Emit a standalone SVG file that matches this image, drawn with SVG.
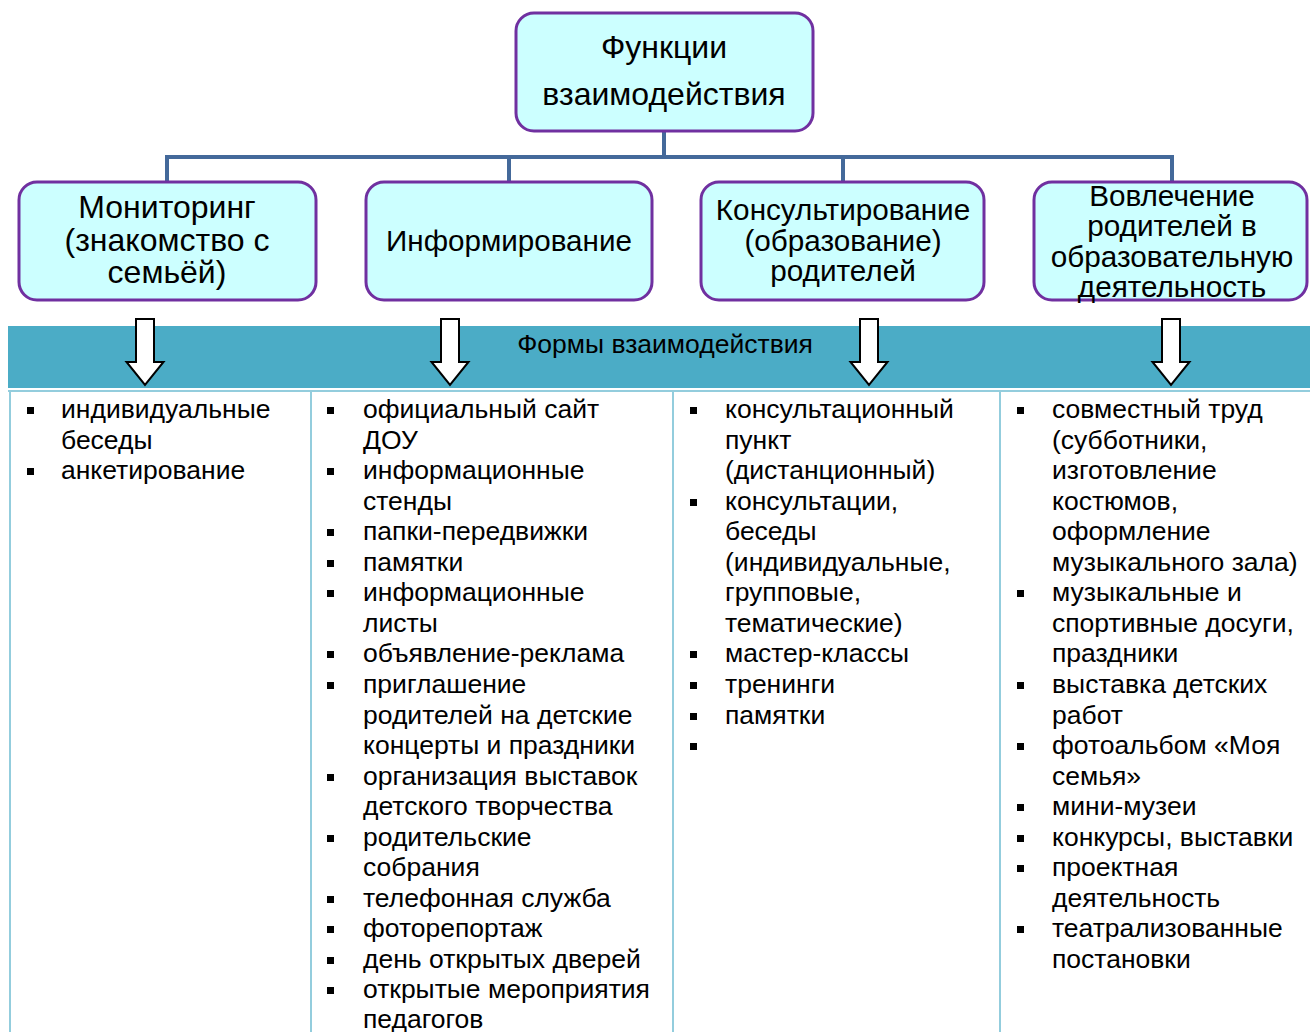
<svg xmlns="http://www.w3.org/2000/svg" width="1310" height="1032" viewBox="0 0 1310 1032">
<style>
.box{fill:#CCFFFF;stroke:#7030A0;stroke-width:3}
.hd{font-family:"Liberation Sans",Arial,sans-serif;fill:#000;text-anchor:middle}
.li{font-family:"Liberation Sans",Arial,sans-serif;font-size:26.5px;fill:#000}
.conn{stroke:#44699A;stroke-width:4;fill:none}
.sep{stroke:#93CDDD;stroke-width:2}
.arrow{fill:#fff;stroke:#000;stroke-width:2}
.bul{fill:#000}
</style>
<defs>
<path id="arr" d="M-9,0 H9 V43 H18.5 L0,66 L-18.5,43 H-9 Z"/>
<rect id="b" width="7" height="7"/>
</defs>
<rect width="1310" height="1032" fill="#fff"/>
<g id="connectors">
<path class="conn" d="M664,131 V157 M167,157 H1172 M167,155 V182 M509,155 V182 M843,155 V182 M1172,155 V182"/>
</g>
<g id="root">
<rect class="box" x="516" y="13" width="297" height="118" rx="18"/>
<text class="hd" font-size="32" x="664" y="58">Функции</text>
<text class="hd" font-size="32" x="664" y="105">взаимодействия</text>
</g>
<g id="n1">
<rect class="box" x="19" y="182" width="297" height="118" rx="18"/>
<text class="hd" font-size="32"><tspan x="167" y="218">Мониторинг</tspan><tspan x="167" y="251">(знакомство с</tspan><tspan x="167" y="283">семьёй)</tspan></text>
</g>
<g id="n2">
<rect class="box" x="366" y="182" width="286" height="118" rx="18"/>
<text class="hd" font-size="29.6" x="509" y="251">Информирование</text>
</g>
<g id="n3">
<rect class="box" x="701" y="182" width="283" height="118" rx="18"/>
<text class="hd" font-size="29.7"><tspan x="843" y="220">Консультирование</tspan><tspan x="843" y="251">(образование)</tspan><tspan x="843" y="281">родителей</tspan></text>
</g>
<g id="n4">
<rect class="box" x="1034" y="182" width="273" height="118" rx="18"/>
<text class="hd" font-size="29.7"><tspan x="1172" y="206">Вовлечение</tspan><tspan x="1172" y="236">родителей в</tspan><tspan x="1172" y="267">образовательную</tspan><tspan x="1172" y="297">деятельность</tspan></text>
</g>
<g id="banner">
<rect x="8" y="326" width="1302" height="62" fill="#4BACC6"/>
<line class="sep" x1="8" y1="391" x2="1310" y2="391"/>
<text class="hd" font-size="26.5" x="665" y="353">Формы взаимодействия</text>
<use href="#arr" class="arrow" x="145" y="319"/>
<use href="#arr" class="arrow" x="450" y="319"/>
<use href="#arr" class="arrow" x="869" y="319"/>
<use href="#arr" class="arrow" x="1171" y="319"/>
</g>
<g id="columns">
<line class="sep" x1="10" y1="391" x2="10" y2="1032"/>
<line class="sep" x1="311" y1="391" x2="311" y2="1032"/>
<line class="sep" x1="673" y1="391" x2="673" y2="1032"/>
<line class="sep" x1="1000" y1="391" x2="1000" y2="1032"/>
</g>
<g id="list1">
<use href="#b" class="bul" x="27" y="407"/>
<use href="#b" class="bul" x="27" y="468"/>
<text class="li"><tspan x="61" y="418">индивидуальные</tspan><tspan x="61" y="449">беседы</tspan><tspan x="61" y="479">анкетирование</tspan></text>
</g>
<g id="list2">
<use href="#b" class="bul" x="327" y="407"/>
<use href="#b" class="bul" x="327" y="468"/>
<use href="#b" class="bul" x="327" y="529"/>
<use href="#b" class="bul" x="327" y="560"/>
<use href="#b" class="bul" x="327" y="590"/>
<use href="#b" class="bul" x="327" y="651"/>
<use href="#b" class="bul" x="327" y="682"/>
<use href="#b" class="bul" x="327" y="774"/>
<use href="#b" class="bul" x="327" y="835"/>
<use href="#b" class="bul" x="327" y="896"/>
<use href="#b" class="bul" x="327" y="926"/>
<use href="#b" class="bul" x="327" y="957"/>
<use href="#b" class="bul" x="327" y="987"/>
<text class="li"><tspan x="363" y="418">официальный сайт</tspan><tspan x="363" y="449">ДОУ</tspan><tspan x="363" y="479">информационные</tspan><tspan x="363" y="510">стенды</tspan><tspan x="363" y="540">папки-передвижки</tspan><tspan x="363" y="571">памятки</tspan><tspan x="363" y="601">информационные</tspan><tspan x="363" y="632">листы</tspan><tspan x="363" y="662">объявление-реклама</tspan><tspan x="363" y="693">приглашение</tspan><tspan x="363" y="724">родителей на детские</tspan><tspan x="363" y="754">концерты и праздники</tspan><tspan x="363" y="785">организация выставок</tspan><tspan x="363" y="815">детского творчества</tspan><tspan x="363" y="846">родительские</tspan><tspan x="363" y="876">собрания</tspan><tspan x="363" y="907">телефонная служба</tspan><tspan x="363" y="937">фоторепортаж</tspan><tspan x="363" y="968">день открытых дверей</tspan><tspan x="363" y="998">открытые мероприятия</tspan><tspan x="363" y="1028">педагогов</tspan></text>
</g>
<g id="list3">
<use href="#b" class="bul" x="690" y="407"/>
<use href="#b" class="bul" x="690" y="499"/>
<use href="#b" class="bul" x="690" y="651"/>
<use href="#b" class="bul" x="690" y="682"/>
<use href="#b" class="bul" x="690" y="713"/>
<use href="#b" class="bul" x="690" y="743"/>
<text class="li"><tspan x="725" y="418">консультационный</tspan><tspan x="725" y="449">пункт</tspan><tspan x="725" y="479">(дистанционный)</tspan><tspan x="725" y="510">консультации,</tspan><tspan x="725" y="540">беседы</tspan><tspan x="725" y="571">(индивидуальные,</tspan><tspan x="725" y="601">групповые,</tspan><tspan x="725" y="632">тематические)</tspan><tspan x="725" y="662">мастер-классы</tspan><tspan x="725" y="693">тренинги</tspan><tspan x="725" y="724">памятки</tspan></text>
</g>
<g id="list4">
<use href="#b" class="bul" x="1017" y="407"/>
<use href="#b" class="bul" x="1017" y="590"/>
<use href="#b" class="bul" x="1017" y="682"/>
<use href="#b" class="bul" x="1017" y="743"/>
<use href="#b" class="bul" x="1017" y="804"/>
<use href="#b" class="bul" x="1017" y="835"/>
<use href="#b" class="bul" x="1017" y="865"/>
<use href="#b" class="bul" x="1017" y="926"/>
<text class="li"><tspan x="1052" y="418">совместный труд</tspan><tspan x="1052" y="449">(субботники,</tspan><tspan x="1052" y="479">изготовление</tspan><tspan x="1052" y="510">костюмов,</tspan><tspan x="1052" y="540">оформление</tspan><tspan x="1052" y="571">музыкального зала)</tspan><tspan x="1052" y="601">музыкальные и</tspan><tspan x="1052" y="632">спортивные досуги,</tspan><tspan x="1052" y="662">праздники</tspan><tspan x="1052" y="693">выставка детских</tspan><tspan x="1052" y="724">работ</tspan><tspan x="1052" y="754">фотоальбом «Моя</tspan><tspan x="1052" y="785">семья»</tspan><tspan x="1052" y="815">мини-музеи</tspan><tspan x="1052" y="846">конкурсы, выставки</tspan><tspan x="1052" y="876">проектная</tspan><tspan x="1052" y="907">деятельность</tspan><tspan x="1052" y="937">театрализованные</tspan><tspan x="1052" y="968">постановки</tspan></text>
</g>
</svg>
